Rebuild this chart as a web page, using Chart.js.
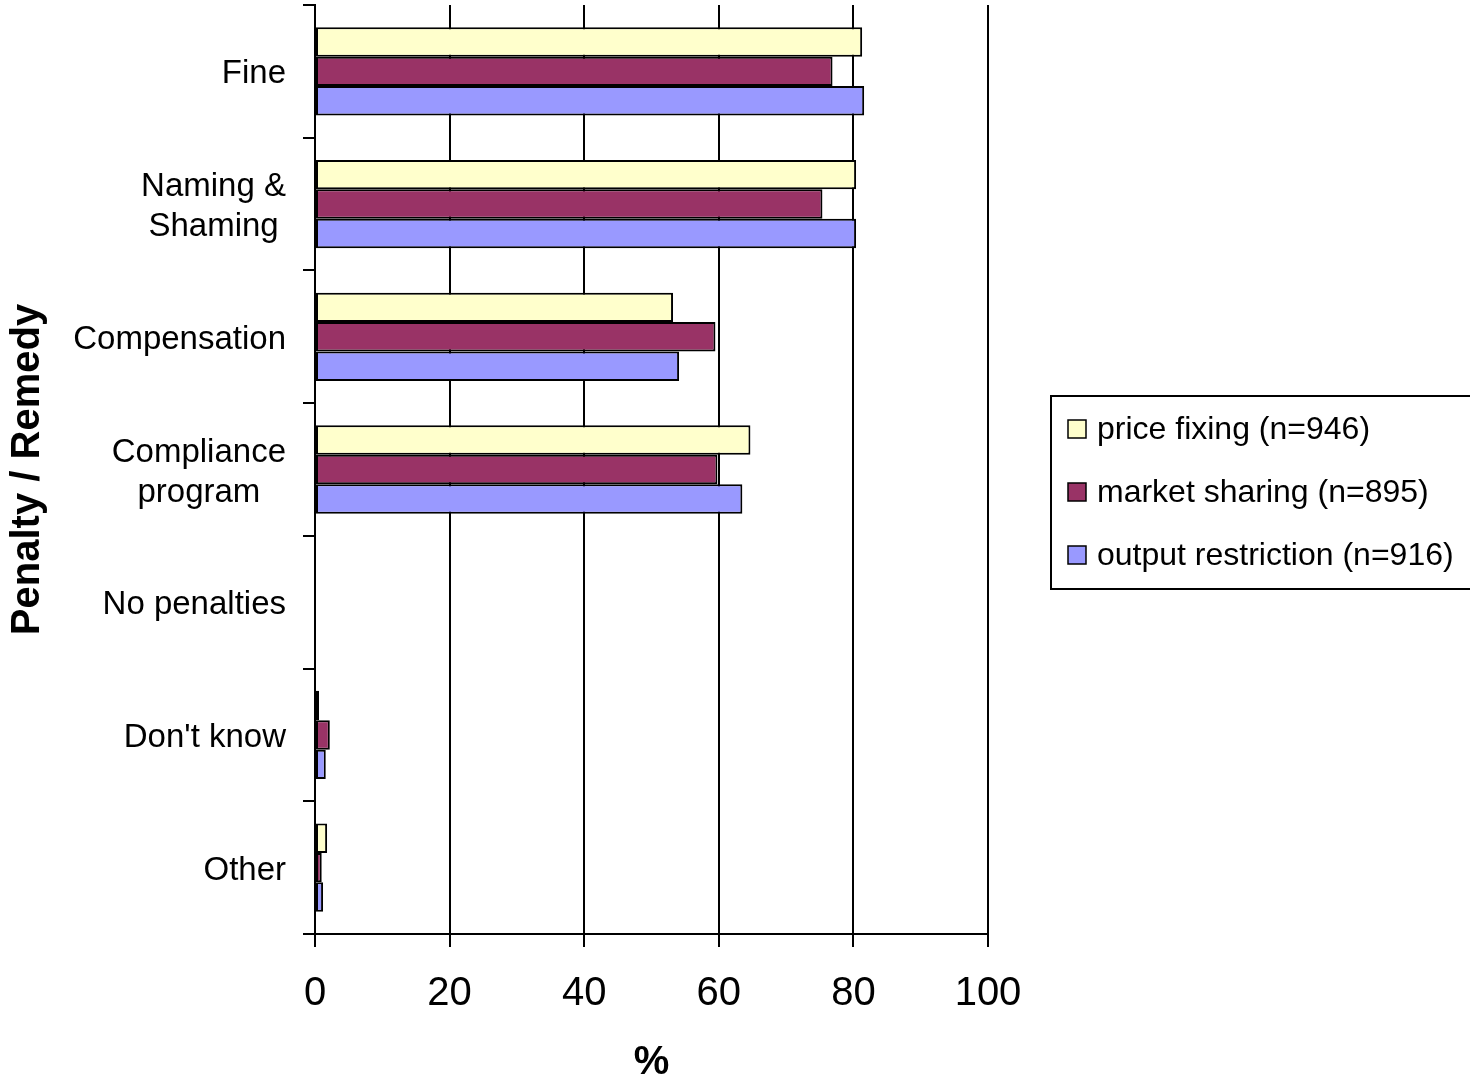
<!DOCTYPE html>
<html>
<head>
<meta charset="utf-8">
<script src="https://cdn.jsdelivr.net/npm/chart.js@4/dist/chart.umd.min.js"></script>
<style>
  html, body { margin: 0; padding: 0; background: #fff; }
  canvas { display: block; }
</style>
</head>
<body>
<canvas id="c" width="1470" height="1081"></canvas>
<script>
const categories = ["Fine", ["Naming &", "Shaming"], "Compensation", ["Compliance", "program"], "No penalties", "Don't know", "Other"];
const seriesNames = ["price fixing (n=946)", "market sharing (n=895)", "output restriction (n=916)"];
const priceFixing = [81.3, 80.4, 53.2, 64.7, 0, 0.6, 1.8];
const marketSharing = [76.9, 75.4, 59.5, 59.8, 0, 2.2, 1.0];
const outputRestriction = [81.6, 80.4, 54.1, 63.5, 0, 1.6, 1.2];
const xTicks = [0, 20, 40, 60, 80, 100];
const seriesColors = ["#FFFFCC", "#993366", "#9999FF"];

const FONT = "'Liberation Sans', Arial, sans-serif";
Chart.defaults.font.family = FONT;
Chart.defaults.color = "#000";

const yLabelPlugin = {
  id: 'yLabels',
  afterDraw(chart) {
    const ctx = chart.ctx;
    const y = chart.scales.y;
    ctx.save();
    ctx.font = "33px " + FONT;
    ctx.fillStyle = "#000";
    ctx.textBaseline = "middle";
    ctx.textAlign = "center";
    const lh = 40;
    const rightEdge = 286;
    categories.forEach((lab, i) => {
      const lines = Array.isArray(lab) ? lab : [lab];
      const w = Math.max(...lines.map(l => ctx.measureText(l).width));
      const cx = rightEdge - w / 2;
      const cy = y.getPixelForValue(i) + 3;
      lines.forEach((l, j) => {
        ctx.fillText(l, cx, cy + (j - (lines.length - 1) / 2) * lh);
      });
    });
    ctx.restore();
  }
};

const legendPlugin = {
  id: 'boxLegend',
  afterDraw(chart) {
    const ctx = chart.ctx;
    ctx.save();
    ctx.lineWidth = 2;
    ctx.strokeStyle = "#000";
    ctx.strokeRect(1051, 396, 440, 193);
    ctx.font = "32px " + FONT;
    ctx.textBaseline = "middle";
    ctx.textAlign = "left";
    chart.data.datasets.forEach((ds, i) => {
      const cy = 429 + i * 63;
      ctx.fillStyle = ds.backgroundColor;
      ctx.fillRect(1068, cy - 9, 18, 18);
      ctx.lineWidth = 1.5;
      ctx.strokeRect(1068, cy - 9, 18, 18);
      ctx.fillStyle = "#000";
      ctx.fillText(ds.label, 1097, cy + 1);
    });
    ctx.restore();
  }
};

const datasets = [priceFixing, marketSharing, outputRestriction].map((vals, i) => ({
  label: seriesNames[i],
  data: vals,
  backgroundColor: seriesColors[i],
  borderColor: "#000",
  borderWidth: 2,
  borderSkipped: false,
  categoryPercentage: 0.665,
  barPercentage: 1.0
}));

new Chart(document.getElementById('c'), {
  type: 'bar',
  data: { labels: categories.map(c => Array.isArray(c) ? c.join(' ') : c), datasets },
  options: {
    indexAxis: 'y',
    responsive: false,
    devicePixelRatio: 1,
    animation: false,
    layout: { padding: { left: 0, top: 5, right: 1470 - 988, bottom: 0 } },
    plugins: { legend: { display: false }, tooltip: { enabled: false } },
    scales: {
      x: {
        min: 0, max: 100,
        afterBuildTicks(scale) { scale.ticks = xTicks.map(v => ({ value: v })); },
        afterFit(scale) { scale.height = 1081 - 934; },
        ticks: { font: { size: 40 }, color: "#000", padding: 23 },
        grid: { color: "#000", lineWidth: 2, tickLength: 13, drawTicks: true },
        border: { display: true, color: "#000", width: 2 },
        title: { display: true, text: "%", font: { size: 40, weight: 'bold' }, color: "#000", padding: { top: 0, bottom: -6 } }
      },
      y: {
        afterFit(scale) { scale.width = 315; scale.paddingTop = 0; scale.paddingBottom = 0; },
        ticks: { color: "rgba(0,0,0,0)", font: { size: 1 } },
        grid: { drawOnChartArea: false, drawTicks: true, tickLength: 12, color: "#000", lineWidth: 2, offset: true },
        border: { display: true, color: "#000", width: 2 },
        title: { display: true, text: "Penalty / Remedy", font: { size: 40, weight: 'bold' }, color: "#000", padding: { top: 4, bottom: 0 } }
      }
    }
  },
  plugins: [yLabelPlugin, legendPlugin]
});
</script>
</body>
</html>
